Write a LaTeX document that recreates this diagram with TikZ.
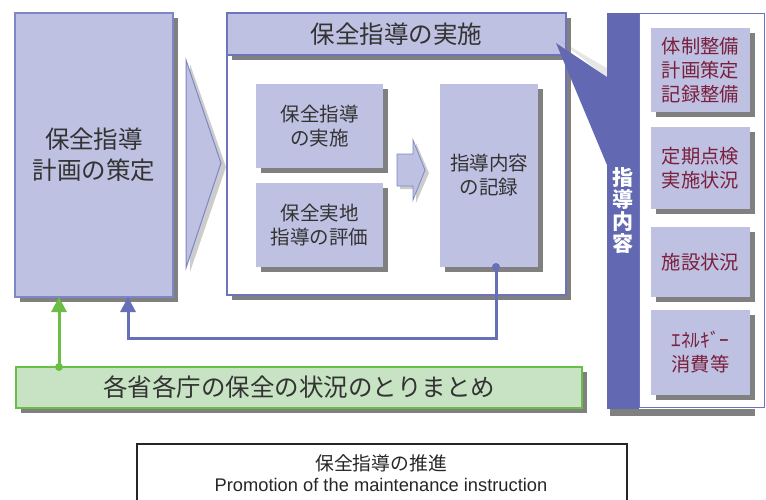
\documentclass[tikz,border=0pt]{standalone}
\usepackage{fontspec}
\setmainfont{Noto Sans CJK JP}
\newfontfamily\en{Liberation Sans}
\usetikzlibrary{arrows.meta,shadows}
\definecolor{lav}{HTML}{BEC1E1}
\definecolor{lavborder}{HTML}{7E87C6}
\definecolor{frameblue}{HTML}{6B74BC}
\definecolor{darkbar}{HTML}{6268B2}
\definecolor{shadowgray}{HTML}{808080}
\definecolor{txt}{HTML}{333333}
\definecolor{maroon}{HTML}{7A1F3D}
\definecolor{greenfill}{HTML}{C8E3C4}
\definecolor{greenline}{HTML}{6BBE45}
\definecolor{connblue}{HTML}{6670B8}
\begin{document}
\begin{tikzpicture}[x=1pt,y=-1pt,
  every node/.style={inner sep=0pt,outer sep=0pt},
  shd/.style={drop shadow={shadow xshift=5pt,shadow yshift=-5pt,fill=shadowgray,opacity=1}},
  bigbox/.style={fill=lav,draw=lavborder,line width=1.8pt,shd,align=center,text=txt,
    font=\fontsize{24.5}{31}\selectfont},
  ibox/.style={fill=lav,shd,align=center,text=txt,font=\fontsize{19.5}{24}\selectfont},
  rbox/.style={fill=lav,shd,align=center,text=maroon,font=\fontsize{19.3}{24}\selectfont,
    minimum width=99pt},
  bluecon/.style={draw=connblue,line width=3pt,-{Triangle[length=15pt,width=15pt]}},
  greencon/.style={draw=greenline,line width=3pt,-{Triangle[length=15pt,width=15pt]}}
]
\useasboundingbox (0,0) rectangle (766,499);

% left box
\node[bigbox,minimum width=158pt,minimum height=284pt] (plan) at (94,155)
  {保全指導\\計画の策定};

% chevron
\fill[shadowgray,opacity=.4] (190,64) -- (226,167) -- (190,272) -- cycle;
\filldraw[fill=lav,draw=lavborder,line width=1pt] (186,60) -- (221,163) -- (186,268) -- cycle;

% big frame
\node[fill=white,draw=frameblue,line width=1.8pt,shd,minimum width=339pt,minimum height=282pt]
  (frame) at (396.5,154) {};
\node[fill=lav,draw=frameblue,line width=1.8pt,shd,minimum width=339pt,minimum height=42pt,
  text=txt,font=\fontsize{24.5}{30}\selectfont] (title) at (396.5,34) {保全指導の実施};

% inner boxes
\node[ibox,minimum width=127pt,minimum height=84pt] (impl) at (319.5,126) {保全指導\\の実施};
\node[ibox,minimum width=127pt,minimum height=84pt] (eval) at (319.5,225) {保全実地\\指導の評価};
\node[ibox,minimum width=98pt,minimum height=183pt] (rec) at (489,175.5) {指導内容\\の記録};

% small block arrow
\fill[shadowgray,opacity=.4] (400,157) -- (416,157) -- (416,143) -- (429,173) -- (416,203) -- (416,189) -- (400,189) -- cycle;
\filldraw[fill=lav,draw=lavborder,line width=0.8pt] (397,154) -- (413,154) -- (413,140) -- (425,170)
  -- (413,200) -- (413,186) -- (397,186) -- cycle;

% right panel
\fill[shadowgray] (610,409) rectangle (755,416);
\node[fill=white,draw=frameblue,line width=1pt,minimum width=125pt,minimum height=394pt]
  (panel) at (701.5,210) {};
\fill[shadowgray,opacity=.2] (559,40) -- (610,70) -- (610,80) -- cycle;
\fill[darkbar] (556,43) -- (607,77) -- (607,165) -- cycle;
\node[fill=darkbar,minimum width=32pt,minimum height=396pt] (bar) at (623,211) {};
\node[text=white,align=center,font=\bfseries\fontsize{21}{22}\selectfont] (barlabel) at (623,211)
  {指\\導\\内\\容};

\node[rbox,minimum height=84pt] (r1) at (700.5,70) {体制整備\\計画策定\\記録整備};
\node[rbox,minimum height=82pt] (r2) at (700.5,168) {定期点検\\実施状況};
\node[rbox,minimum height=70pt] (r3) at (700.5,262) {施設状況};
\node[rbox,minimum height=85pt] (r4) at (700.5,352.5) {ｴﾈﾙｷﾞｰ\\消費等};

% summary box
\node[fill=greenfill,draw=greenline,line width=2.4pt,shd,minimum width=566pt,minimum height=41pt,
  text=txt,font=\fontsize{24.5}{30}\selectfont] (sum) at (299,387.5) {各省各庁の保全の状況のとりまとめ};

% connectors
\coordinate (recout) at (496,267);
\coordinate (bend1) at (496,338);
\coordinate (bend2) at (128,338);
\coordinate (planin1) at (128,297);
\draw[bluecon] (recout) -- (bend1) -- (bend2) -- (planin1);
\fill[connblue] (recout) circle (4pt);

\coordinate (sumout) at (59,367);
\coordinate (planin2) at (59,297);
\draw[greencon] (sumout) -- (planin2);
\fill[greenline] (sumout) circle (4pt);

% caption
\coordinate (c1) at (137,505);
\coordinate (c2) at (137,444);
\coordinate (c3) at (627,444);
\coordinate (c4) at (627,505);
\draw[line width=1.5pt,draw=black!85] (c1) -- (c2) -- (c3) -- (c4);
\node[text=black!85,font=\fontsize{18.8}{20}\selectfont] (cap1) at (381,463) {保全指導の推進};
\node[text=black!85,font=\en\fontsize{18.3}{20}\selectfont] (cap2) at (381,485)
  {Promotion of the maintenance instruction};
\end{tikzpicture}
\end{document}
